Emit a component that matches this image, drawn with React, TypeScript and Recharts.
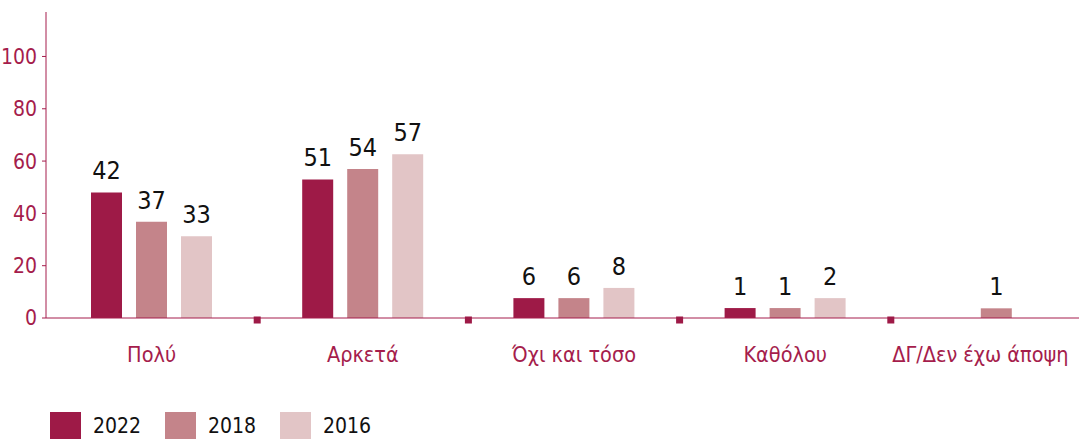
import { Bar, BarChart, XAxis, YAxis, Legend, LabelList } from "recharts";

const categories = ["Πολύ", "Αρκετά", "Όχι και τόσο", "Καθόλου", "ΔΓ/Δεν έχω άποψη"];
const years = ["2022", "2018", "2016"];
// bar heights as drawn in the picture
const values2022 = [48, 53, 7.6, 3.8, null];
const values2018 = [36.8, 57, 7.6, 3.8, 3.7];
const values2016 = [31.3, 62.6, 11.5, 7.6, null];
// numbers printed above the bars
const labels2022 = ["42", "51", "6", "1", ""];
const labels2018 = ["37", "54", "6", "1", "1"];
const labels2016 = ["33", "57", "8", "2", ""];
const yTicks = [0, 20, 40, 60, 80, 100];

const colors = ["#9e1a47", "#c4848a", "#e2c5c6"];
const accent = "#a51d4c";
const font = "'Liberation Sans Narrow', 'DejaVu Sans Condensed', Roboto, sans-serif";

const data = categories.map((name, i) => ({
  name,
  v2022: values2022[i],
  v2018: values2018[i],
  v2016: values2016[i],
  l2022: labels2022[i],
  l2018: labels2018[i],
  l2016: labels2016[i],
}));

function CategoryTick(props: any) {
  const { x, y, payload, index } = props;
  const band = (1102 - 46) / categories.length;
  const last = index === categories.length - 1;
  return (
    <g>
      {index > 0 && (
        <rect x={x - band / 2 - 3.5} y={y - 9.5} width={7} height={7} fill="#9e1a47" />
      )}
      <text
        x={x}
        y={y + 36}
        dx={last ? -16 : 0}
        textAnchor="middle"
        fill={accent}
        fontSize={21.5}
        fontFamily={font}
      >
        {payload.value}
      </text>
    </g>
  );
}

function YearLegend() {
  return (
    <div style={{ display: "flex", alignItems: "center", paddingLeft: 50, paddingTop: 13, fontFamily: font }}>
      {years.map((year, i) => (
        <div key={year} style={{ display: "flex", alignItems: "center", width: 115 }}>
          <span style={{ width: 31, height: 28, background: colors[i], display: "inline-block" }} />
          <span style={{ marginLeft: 12, fontSize: 21, color: "#111" }}>{year}</span>
        </div>
      ))}
    </div>
  );
}

const labelStyle = { fill: "#111", fontSize: 25, fontFamily: font };

export default function App() {
  return (
    <div style={{ position: "fixed", left: 0, top: 0, width: 1079, height: 439, overflow: "hidden", background: "#fff" }}>
      <BarChart
        width={1102}
        height={439}
        data={data}
        margin={{ top: 12, right: 0, bottom: 0, left: 0 }}
        barSize={31}
        barGap={14}
      >
        <YAxis
          width={46}
          domain={[0, 117]}
          ticks={yTicks}
          allowDataOverflow
          stroke={accent}
          tickSize={4}
          tickMargin={5}
          tick={{ fill: accent, fontSize: 21, fontFamily: font }}
        />
        <XAxis
          dataKey="name"
          height={81}
          stroke={accent}
          tickLine={false}
          interval={0}
          tick={<CategoryTick />}
        />
        <Legend verticalAlign="bottom" align="left" height={40} content={<YearLegend />} />
        <Bar dataKey="v2022" fill={colors[0]} isAnimationActive={false}>
          <LabelList dataKey="l2022" position="top" offset={13} style={labelStyle} />
        </Bar>
        <Bar dataKey="v2018" fill={colors[1]} isAnimationActive={false}>
          <LabelList dataKey="l2018" position="top" offset={13} style={labelStyle} />
        </Bar>
        <Bar dataKey="v2016" fill={colors[2]} isAnimationActive={false}>
          <LabelList dataKey="l2016" position="top" offset={13} style={labelStyle} />
        </Bar>
      </BarChart>
    </div>
  );
}
